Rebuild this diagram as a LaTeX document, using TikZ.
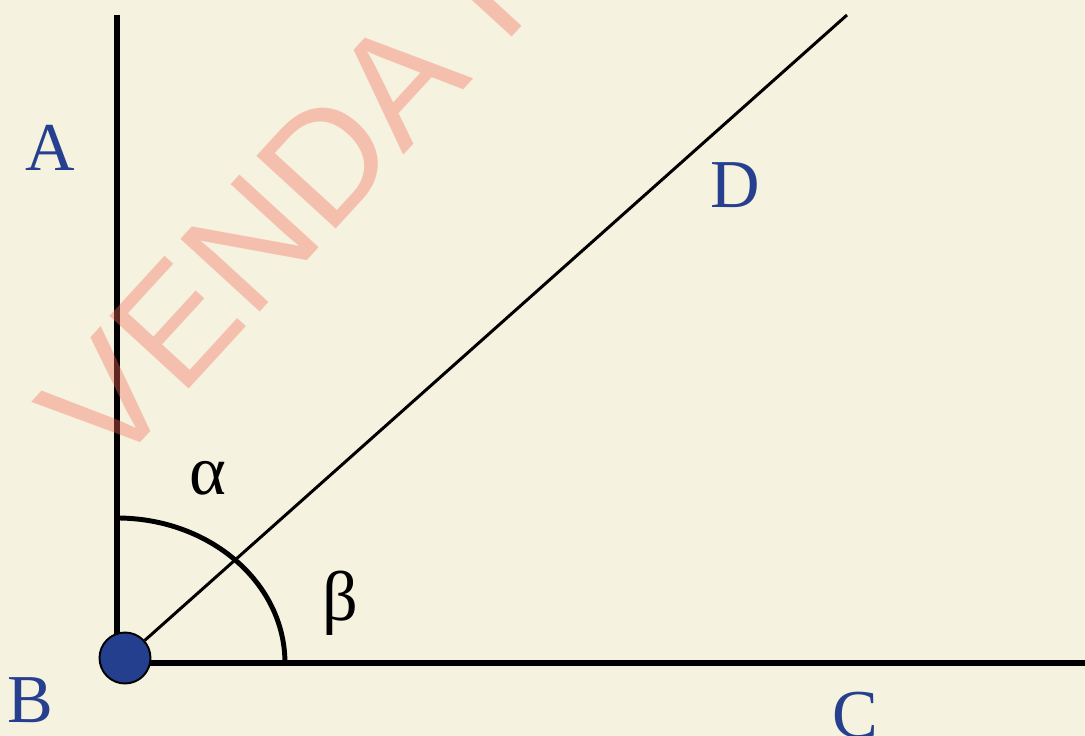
\documentclass[tikz,border=0pt]{standalone}
\usepackage{fontspec}
\setmainfont{Liberation Serif}
\newfontfamily\wmfont{Liberation Sans}
\definecolor{AngBack}{HTML}{F5F2E0}
\definecolor{AngBlue}{HTML}{263F8E}
\definecolor{AngDot}{HTML}{253F8F}
\definecolor{AngMark}{HTML}{F56E5A}
\usetikzlibrary{positioning}
\tikzset{
  ptlabel/.style={text=AngBlue, inner sep=0pt, font=\fontsize{39}{39}\selectfont},
  anglabel/.style={text=black, inner sep=0pt, font=\fontsize{40}{40}\selectfont},
  side/.style={black, line width=3.4pt},
  ray/.style={black, line width=1.7pt},
  arcline/.style={black, line width=2.8pt},
  vertex/.style={circle, draw=black, line width=1.1pt, fill=AngDot, minimum size=1.02cm, inner sep=0pt},
  wmark/.style={text=AngMark, text opacity=0.38, inner sep=0pt, font=\wmfont\fontsize{89}{89}\selectfont}
}

\begin{document}
\begin{tikzpicture}[x=0.02cm, y=-0.02cm]
    \useasboundingbox (0,0) rectangle (1085,736);
    \clip (0,0) rectangle (1085,736);
    \fill[AngBack] (0,0) rectangle (1085,736);

    \coordinate (top) at (117,15);
    \coordinate (corner) at (117,663);
    \coordinate (right) at (1085,663);
    \coordinate (far) at (847,15);
    \coordinate (arcstart) at (117,518);

    \draw[side] (top) -- (corner) -- (right);
    \draw[arcline] (arcstart) arc[start angle=90, end angle=0, x radius=3.36cm, y radius=2.9cm];
    \node[vertex] (b) at (125,658) {};
    \draw[ray] (b) -- (far);

    \node[ptlabel] (la) at (50,148) {A};
    \node[ptlabel] (lb) at (30,700) {B};
    \node[ptlabel] (lc) at (855,715) {C};
    \node[ptlabel] (ld) at (735,185) {D};
    \node[anglabel] (alpha) at (208,478) {α};
    \node[anglabel] (beta) at (340,603) {β};

    \node[wmark, anchor=base west, rotate=47.5] (wm) at (110,476) {VENDA P};
  \end{tikzpicture}
\end{document}
